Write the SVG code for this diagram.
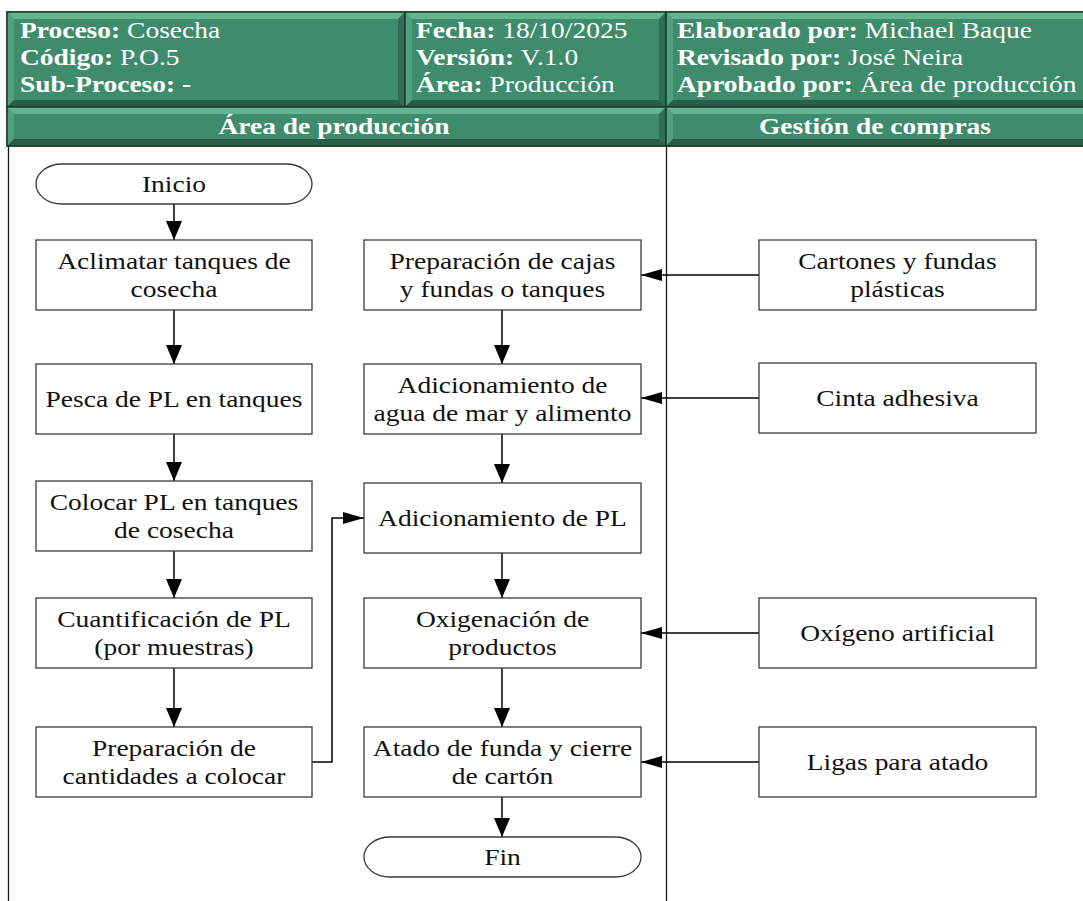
<svg xmlns="http://www.w3.org/2000/svg" width="1083" height="901" viewBox="0 0 1083 901">
  <style>
    .cell-base { fill: #3e8c6b; stroke: #1d3b2d; stroke-width: 1.5; }
    .bv-top { fill: #65b591; }
    .bv-left { fill: #51a07e; }
    .bv-right { fill: #2f6e54; }
    .bv-bottom { fill: #2a5e48; }
    .htxt { font-family: "Liberation Serif", "Times New Roman", serif; font-size: 23.5px; fill: #ffffff; }
    .hb { font-weight: bold; }
    .lane { stroke: #1a1a1a; stroke-width: 1.3; fill: none; }
    .box { fill: #ffffff; stroke: #3a3a3a; stroke-width: 1.3; }
    .ntxt { font-family: "Liberation Serif", "Times New Roman", serif; font-size: 23.5px; fill: #111111; text-anchor: middle; }
    .conn { stroke: #000000; stroke-width: 1.5; fill: none; }
  </style>
  <defs>
    <marker id="arrowV" markerUnits="userSpaceOnUse" viewBox="0 0 19 16" refX="19" refY="8" markerWidth="19" markerHeight="16" orient="auto">
      <path d="M0,0 L19,8 L0,16 Z" fill="#000"/>
    </marker>
    <marker id="arrowH" markerUnits="userSpaceOnUse" viewBox="0 0 21 12" refX="21" refY="6" markerWidth="21" markerHeight="12" orient="auto">
      <path d="M0,0 L21,6 L0,12 Z" fill="#000"/>
    </marker>
  </defs>

  <rect width="1083" height="901" fill="#ffffff"/>

  <!-- Header table with bevelled green cells -->
  <g id="header">
    <g id="cell-proceso">
      <rect class="cell-base" x="7" y="12" width="398" height="95"/>
      <polygon class="bv-top" points="7,12 405,12 398,19 14,19"/>
      <polygon class="bv-left" points="7,12 14,19 14,100 7,107"/>
      <polygon class="bv-right" points="405,12 405,107 398,100 398,19"/>
      <polygon class="bv-bottom" points="7,107 14,100 398,100 405,107"/>
      <rect x="7" y="12" width="398" height="95" fill="none" stroke="#1d3b2d" stroke-width="1.5"/>
      <text class="htxt" transform="translate(20,0) scale(1.17,1)"><tspan x="0" y="38"><tspan class="hb">Proceso:</tspan> Cosecha</tspan><tspan x="0" y="65"><tspan class="hb">Código:</tspan> P.O.5</tspan><tspan x="0" y="92"><tspan class="hb">Sub-Proceso: -</tspan></tspan></text>
    </g>
    <g id="cell-fecha">
      <rect class="cell-base" x="405" y="12" width="261" height="95"/>
      <polygon class="bv-top" points="405,12 666,12 659,19 412,19"/>
      <polygon class="bv-left" points="405,12 412,19 412,100 405,107"/>
      <polygon class="bv-right" points="666,12 666,107 659,100 659,19"/>
      <polygon class="bv-bottom" points="405,107 412,100 659,100 666,107"/>
      <rect x="405" y="12" width="261" height="95" fill="none" stroke="#1d3b2d" stroke-width="1.5"/>
      <text class="htxt" transform="translate(416,0) scale(1.17,1)"><tspan x="0" y="38"><tspan class="hb">Fecha:</tspan> 18/10/2025</tspan><tspan x="0" y="65"><tspan class="hb">Versión:</tspan> V.1.0</tspan><tspan x="0" y="92"><tspan class="hb">Área:</tspan> Producción</tspan></text>
    </g>
    <g id="cell-elaborado">
      <rect class="cell-base" x="666" y="12" width="430" height="95"/>
      <polygon class="bv-top" points="666,12 1096,12 1089,19 673,19"/>
      <polygon class="bv-left" points="666,12 673,19 673,100 666,107"/>
      <polygon class="bv-bottom" points="666,107 673,100 1089,100 1096,107"/>
      <rect x="666" y="12" width="430" height="95" fill="none" stroke="#1d3b2d" stroke-width="1.5"/>
      <text class="htxt" transform="translate(677,0) scale(1.17,1)"><tspan x="0" y="38"><tspan class="hb">Elaborado por:</tspan> Michael Baque</tspan><tspan x="0" y="65"><tspan class="hb">Revisado por:</tspan> José Neira</tspan><tspan x="0" y="92"><tspan class="hb">Aprobado por:</tspan> Área de producción</tspan></text>
    </g>
    <g id="lane-head-produccion">
      <rect class="cell-base" x="7" y="107" width="659" height="39"/>
      <polygon class="bv-top" points="7,107 666,107 659,114 14,114"/>
      <polygon class="bv-left" points="7,107 14,114 14,139 7,146"/>
      <polygon class="bv-right" points="666,107 666,146 659,139 659,114"/>
      <polygon class="bv-bottom" points="7,146 14,139 659,139 666,146"/>
      <rect x="7" y="107" width="659" height="39" fill="none" stroke="#1d3b2d" stroke-width="1.5"/>
      <text class="htxt hb" text-anchor="middle" transform="translate(334,0) scale(1.17,1)" x="0" y="134">Área de producción</text>
    </g>
    <g id="lane-head-compras">
      <rect class="cell-base" x="666" y="107" width="430" height="39"/>
      <polygon class="bv-top" points="666,107 1096,107 1089,114 673,114"/>
      <polygon class="bv-left" points="666,107 673,114 673,139 666,146"/>
      <polygon class="bv-bottom" points="666,146 673,139 1089,139 1096,146"/>
      <rect x="666" y="107" width="430" height="39" fill="none" stroke="#1d3b2d" stroke-width="1.5"/>
      <text class="htxt hb" text-anchor="middle" transform="translate(875,0) scale(1.17,1)" x="0" y="134">Gestión de compras</text>
    </g>
  </g>

  <!-- Swimlane separators -->
  <g id="lanes">
    <line class="lane" x1="8.5" y1="146" x2="8.5" y2="901"/>
    <line class="lane" x1="666.5" y1="146" x2="666.5" y2="901"/>
  </g>

  <!-- Connectors -->
  <g id="connectors">
    <line class="conn" x1="174" y1="204" x2="174" y2="240" marker-end="url(#arrowV)"/>
    <line class="conn" x1="174" y1="310" x2="174" y2="364" marker-end="url(#arrowV)"/>
    <line class="conn" x1="174" y1="434" x2="174" y2="481" marker-end="url(#arrowV)"/>
    <line class="conn" x1="174" y1="551" x2="174" y2="598" marker-end="url(#arrowV)"/>
    <line class="conn" x1="174" y1="668" x2="174" y2="727" marker-end="url(#arrowV)"/>
    <polyline class="conn" points="312,762 332,762 332,518 364,518" marker-end="url(#arrowH)"/>
    <line class="conn" x1="502" y1="310" x2="502" y2="364" marker-end="url(#arrowV)"/>
    <line class="conn" x1="502" y1="434" x2="502" y2="483" marker-end="url(#arrowV)"/>
    <line class="conn" x1="502" y1="553" x2="502" y2="598" marker-end="url(#arrowV)"/>
    <line class="conn" x1="502" y1="668" x2="502" y2="727" marker-end="url(#arrowV)"/>
    <line class="conn" x1="502" y1="797" x2="502" y2="837" marker-end="url(#arrowV)"/>
    <line class="conn" x1="759" y1="275" x2="641" y2="275" marker-end="url(#arrowH)"/>
    <line class="conn" x1="759" y1="398" x2="641" y2="398" marker-end="url(#arrowH)"/>
    <line class="conn" x1="759" y1="633" x2="641" y2="633" marker-end="url(#arrowH)"/>
    <line class="conn" x1="759" y1="762" x2="641" y2="762" marker-end="url(#arrowH)"/>
  </g>

  <!-- Área de producción: left column -->
  <g id="inicio">
    <rect class="box" x="36" y="164" width="276" height="40" rx="26" ry="20"/>
    <text class="ntxt" transform="translate(174,0) scale(1.17,1)" x="0" y="192">Inicio</text>
  </g>
  <g id="aclimatar">
    <rect class="box" x="36" y="240" width="276" height="70"/>
    <text class="ntxt" transform="translate(174,0) scale(1.17,1)"><tspan x="0" y="269">Aclimatar tanques de</tspan><tspan x="0" y="297">cosecha</tspan></text>
  </g>
  <g id="pesca">
    <rect class="box" x="36" y="364" width="276" height="70"/>
    <text class="ntxt" transform="translate(174,0) scale(1.17,1)" x="0" y="407">Pesca de PL en tanques</text>
  </g>
  <g id="colocar">
    <rect class="box" x="36" y="481" width="276" height="70"/>
    <text class="ntxt" transform="translate(174,0) scale(1.17,1)"><tspan x="0" y="510">Colocar PL en tanques</tspan><tspan x="0" y="538">de cosecha</tspan></text>
  </g>
  <g id="cuantificacion">
    <rect class="box" x="36" y="598" width="276" height="70"/>
    <text class="ntxt" transform="translate(174,0) scale(1.17,1)"><tspan x="0" y="627">Cuantificación de PL</tspan><tspan x="0" y="655">(por muestras)</tspan></text>
  </g>
  <g id="preparacion-cantidades">
    <rect class="box" x="36" y="727" width="276" height="70"/>
    <text class="ntxt" transform="translate(174,0) scale(1.17,1)"><tspan x="0" y="756">Preparación de</tspan><tspan x="0" y="784">cantidades a colocar</tspan></text>
  </g>

  <!-- Área de producción: middle column -->
  <g id="preparacion-cajas">
    <rect class="box" x="364" y="240" width="277" height="70"/>
    <text class="ntxt" transform="translate(502.5,0) scale(1.17,1)"><tspan x="0" y="269">Preparación de cajas</tspan><tspan x="0" y="297">y fundas o tanques</tspan></text>
  </g>
  <g id="adicionamiento-agua">
    <rect class="box" x="364" y="364" width="277" height="70"/>
    <text class="ntxt" transform="translate(502.5,0) scale(1.17,1)"><tspan x="0" y="393">Adicionamiento de</tspan><tspan x="0" y="421">agua de mar y alimento</tspan></text>
  </g>
  <g id="adicionamiento-pl">
    <rect class="box" x="364" y="483" width="277" height="70"/>
    <text class="ntxt" transform="translate(502.5,0) scale(1.17,1)" x="0" y="526">Adicionamiento de PL</text>
  </g>
  <g id="oxigenacion">
    <rect class="box" x="364" y="598" width="277" height="70"/>
    <text class="ntxt" transform="translate(502.5,0) scale(1.17,1)"><tspan x="0" y="627">Oxigenación de</tspan><tspan x="0" y="655">productos</tspan></text>
  </g>
  <g id="atado">
    <rect class="box" x="364" y="727" width="277" height="70"/>
    <text class="ntxt" transform="translate(502.5,0) scale(1.17,1)"><tspan x="0" y="756">Atado de funda y cierre</tspan><tspan x="0" y="784">de cartón</tspan></text>
  </g>
  <g id="fin">
    <rect class="box" x="364" y="837" width="277" height="40" rx="26" ry="20"/>
    <text class="ntxt" transform="translate(502.5,0) scale(1.17,1)" x="0" y="865">Fin</text>
  </g>

  <!-- Gestión de compras: supplies -->
  <g id="cartones">
    <rect class="box" x="759" y="240" width="277" height="70"/>
    <text class="ntxt" transform="translate(897.5,0) scale(1.17,1)"><tspan x="0" y="269">Cartones y fundas</tspan><tspan x="0" y="297">plásticas</tspan></text>
  </g>
  <g id="cinta">
    <rect class="box" x="759" y="363" width="277" height="70"/>
    <text class="ntxt" transform="translate(897.5,0) scale(1.17,1)" x="0" y="406">Cinta adhesiva</text>
  </g>
  <g id="oxigeno">
    <rect class="box" x="759" y="598" width="277" height="70"/>
    <text class="ntxt" transform="translate(897.5,0) scale(1.17,1)" x="0" y="641">Oxígeno artificial</text>
  </g>
  <g id="ligas">
    <rect class="box" x="759" y="727" width="277" height="70"/>
    <text class="ntxt" transform="translate(897.5,0) scale(1.17,1)" x="0" y="770">Ligas para atado</text>
  </g>
</svg>
